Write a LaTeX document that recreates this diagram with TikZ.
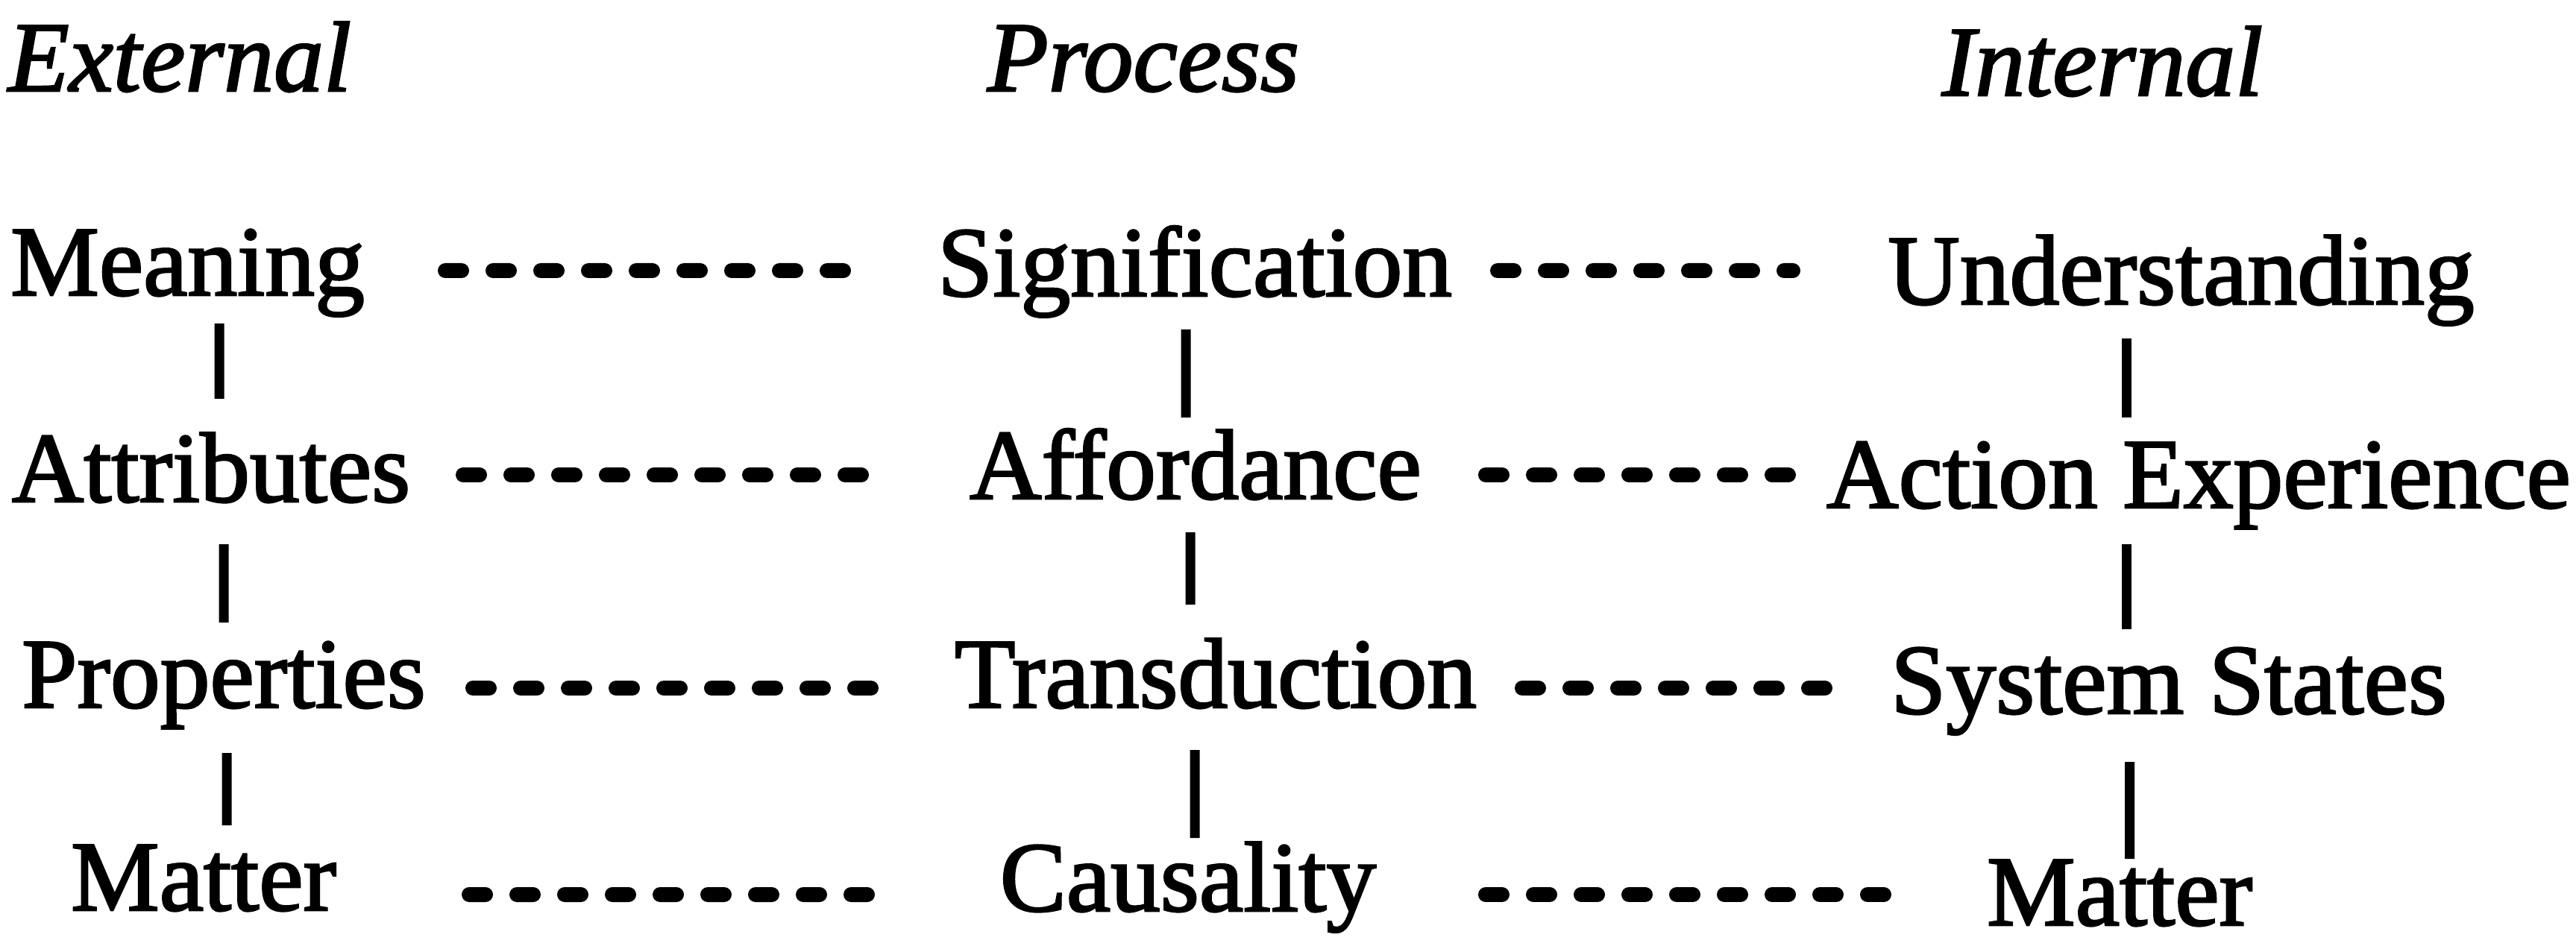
\documentclass[tikz,border=0pt]{standalone}
\usepackage{fontspec}
\setmainfont{Liberation Serif}[FakeBold=2]
\usetikzlibrary{calc}

\tikzset{
  term/.style={inner sep=0pt, anchor=base, font=\fontsize{38}{40}\selectfont},
  head/.style={term, font=\fontsize{38}{40}\selectfont\itshape},
  dashline/.style={line width=0.20cm, line cap=round, dash pattern=on 0.22cm off 0.42cm},
  vbar/.style={line width=0.13cm, line cap=butt}
}

\begin{document}
\begin{tikzpicture}
  \useasboundingbox (0,0) rectangle (34.54,12.72);

  % column headings
  \node[head] (hext)  at (2.41,11.50)  {External};
  \node[head] (hproc) at (15.33,11.50) {Process};
  \node[head] (hint)  at (28.19,11.44) {Internal};

  % external column
  \node[term] (meaning) at (2.515,8.76) {Meaning};
  \node[term] (attr)    at (2.83,5.99)  {Attributes};
  \node[term] (prop)    at (3.00,3.23)  {Properties};
  \node[term] (matterE) at (2.73,0.51)  {Matter};

  % process column
  \node[term] (signif)  at (16.02,8.75) {Signification};
  \node[term] (afford)  at (16.03,6.03) {Affordance};
  \node[term] (trans)   at (16.30,3.23) {Transduction};
  \node[term] (caus)    at (15.93,0.50) {Causality};

  % internal column
  \node[term] (underst) at (29.245,8.64) {Understanding};
  \node[term] (action)  at (29.48,5.91)  {Action Experience};
  \node[term] (sys)     at (29.08,3.15)  {System States};
  \node[term] (matterI) at (28.42,0.31)  {Matter};

  % horizontal dashed links
  \draw[dashline] ($(meaning.base)+(3.455,0.33)$) -- ($(signif.base)+(-4.55,0.34)$);
  \draw[dashline] ($(signif.base)+(4.06,0.34)$)   -- ($(underst.base)+(-5.205,0.45)$);
  \draw[dashline] ($(attr.base)+(3.38,0.36)$)     -- ($(afford.base)+(-4.36,0.32)$);
  \draw[dashline] ($(afford.base)+(3.89,0.32)$)   -- ($(action.base)+(-5.44,0.44)$);
  \draw[dashline] ($(prop.base)+(3.34,0.26)$)     -- ($(trans.base)+(-4.39,0.26)$);
  \draw[dashline] ($(trans.base)+(4.11,0.26)$)    -- ($(sys.base)+(-4.55,0.34)$);
  \draw[dashline] ($(matterE.base)+(3.56,0.21)$)  -- ($(caus.base)+(-4.02,0.22)$);
  \draw[dashline] ($(caus.base)+(3.99,0.22)$)     -- ($(matterI.base)+(-3.16,0.41)$);

  % vertical links, external column
  \draw[vbar] ($(meaning.base)+(0.425,-0.38)$) -- ($(attr.base)+(0.11,1.38)$);
  \draw[vbar] ($(attr.base)+(0.17,-0.57)$)     -- ($(prop.base)+(0,1.14)$);
  \draw[vbar] ($(prop.base)+(0.04,-0.61)$)     -- ($(matterE.base)+(0.31,1.14)$);

  % vertical links, process column
  \draw[vbar] ($(signif.base)+(-0.12,-0.45)$)  -- ($(afford.base)+(-0.13,1.09)$);
  \draw[vbar] ($(afford.base)+(-0.07,-0.45)$)  -- ($(trans.base)+(-0.34,1.38)$);
  \draw[vbar] ($(trans.base)+(-0.28,-0.57)$)   -- ($(caus.base)+(0.09,0.98)$);

  % vertical links, internal column
  \draw[vbar] ($(underst.base)+(-0.735,-0.46)$) -- ($(action.base)+(-0.97,1.21)$);
  \draw[vbar] ($(action.base)+(-0.97,-0.49)$)   -- ($(sys.base)+(-0.57,1.13)$);
  \draw[vbar] ($(sys.base)+(-0.525,-0.65)$)     -- ($(matterI.base)+(0.135,0.89)$);
\end{tikzpicture}
\end{document}
